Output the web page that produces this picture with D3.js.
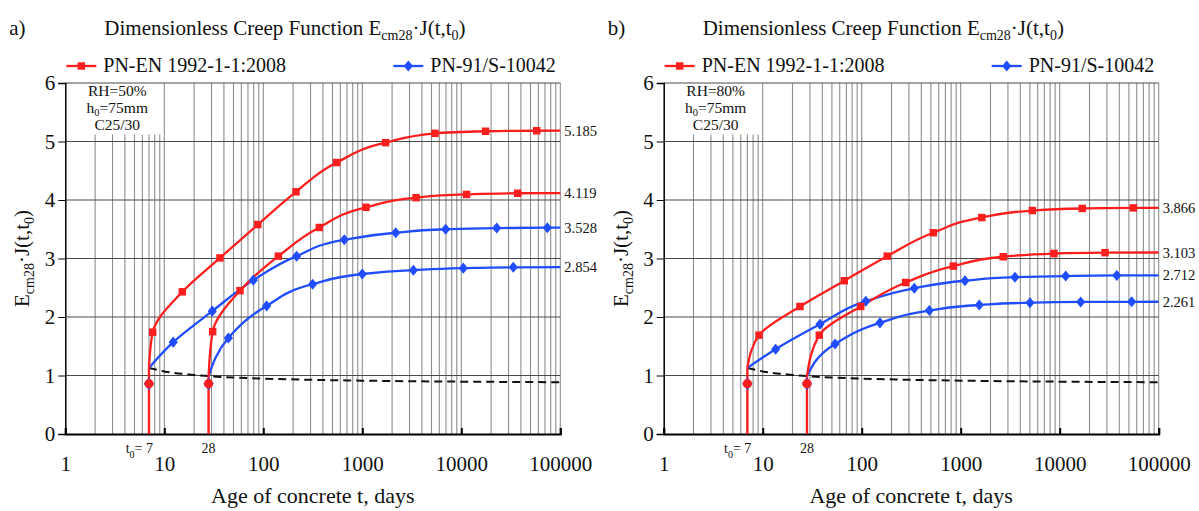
<!DOCTYPE html>
<html>
<head>
<meta charset="utf-8">
<script src="https://cdn.jsdelivr.net/npm/d3@7"></script>
<style>
  body { margin: 0; background: #fff; }
  svg { display: block; }
</style>
</head>
<body>
<svg id="chart" width="1199" height="511"></svg>
<script>
// ---- data ----
const decades = [1, 10, 100, 1000, 10000, 100000];
const yTicks = [0, 1, 2, 3, 4, 5, 6];
const panelLetters = ['a)', 'b)'];
const humidity = ['RH=50%', 'RH=80%'];
const seriesNames = ['PN-EN 1992-1-1:2008', 'PN-91/S-10042'];
const t0Ages = [7, 28];
const t0MarkValue = 0.86;
const boxBottom = 5.12;   // first-decade grid lines stop under the note

// dashed line (same in both panels)
const elasticLine = [[7, 1.13], [10, 1.07], [20, 1.01], [28, 0.99], [50, 0.965], [100, 0.947],
  [300, 0.927], [1000, 0.912], [10000, 0.895], [100000, 0.885]];

// panel a) RH=50%
const ecA7  = [[7, 1.13], [7.63, 1.74], [15.2, 2.43], [36.5, 3.01], [88, 3.58], [214, 4.14],
  [551, 4.64], [1720, 4.98], [5420, 5.14], [17600, 5.175], [57800, 5.184], [100000, 5.185]];
const ecA28 = [[28, 0.99], [30.8, 1.75], [58.2, 2.45], [142, 3.04], [368, 3.53], [1090, 3.875],
  [3490, 4.04], [11300, 4.095], [37100, 4.115], [100000, 4.119]];
const pnA7  = [[7, 1.13], [12.3, 1.57], [30.5, 2.10], [79.3, 2.63], [217, 3.04], [658, 3.32],
  [2175, 3.44], [6950, 3.50], [22800, 3.52], [74000, 3.527], [100000, 3.528]];
const pnA28 = [[28, 0.99], [44.4, 1.64], [108, 2.19], [315, 2.56], [1000, 2.735], [3280, 2.80],
  [10480, 2.835], [33500, 2.85], [100000, 2.854]];

// panel b) RH=80%
const ecB7  = [[7, 1.13], [9.18, 1.69], [23.8, 2.18], [66.7, 2.62], [181, 3.04], [529, 3.44],
  [1633, 3.70], [5290, 3.82], [16900, 3.855], [55400, 3.865], [100000, 3.866]];
const ecB28 = [[28, 0.99], [37.3, 1.69], [97.7, 2.18], [278, 2.59], [843, 2.87], [2690, 3.03],
  [8750, 3.085], [28700, 3.10], [100000, 3.103]];
const pnB7  = [[7, 1.13], [13.5, 1.45], [37.9, 1.875], [110, 2.27], [340, 2.49], [1104, 2.62],
  [3530, 2.68], [11500, 2.70], [37700, 2.71], [100000, 2.712]];
const pnB28 = [[28, 0.99], [53.8, 1.54], [153, 1.90], [482, 2.11], [1540, 2.205], [5010, 2.245],
  [16300, 2.258], [53300, 2.26], [100000, 2.261]];

const RED = '#ff1e1e';
const BLUE = '#1f4dff';
const INK = '#111';
const FONT = '"Liberation Serif", "Times New Roman", serif';

const svg = d3.select('#chart').attr('font-family', FONT);

const diamond = {
  draw(ctx, size) {
    const r = Math.sqrt(size) / 2;
    ctx.moveTo(0, -r * 1.2);
    ctx.lineTo(r, 0);
    ctx.lineTo(0, r * 1.2);
    ctx.lineTo(-r, 0);
    ctx.closePath();
  }
};
const squarePath = d3.symbol(d3.symbolSquare, 56)();
const diamondPath = d3.symbol(diamond, 85)();

// text with subscripts: parts = [[string, isSub], ...]
function richText(sel, parts, subSize, shift = 5) {
  let down = false;
  parts.forEach(([s, sub]) => {
    const t = sel.append('tspan').text(s);
    if (sub && !down) { t.attr('dy', shift).attr('font-size', subSize); down = true; }
    else if (sub) { t.attr('font-size', subSize); }
    else if (down) { t.attr('dy', -shift); down = false; }
  });
  return sel;
}

const yScale = d3.scaleLinear().domain([0, 6]).range([434, 83]);

function drawPanel(i, left, series) {
  const g = svg.append('g');
  const x = d3.scaleLog().domain([1, 100000]).range([left, left + 495]);
  const y = yScale;

  // vertical grid
  g.append('g').selectAll('line')
    .data(x.ticks().filter(t => t > 1))
    .join('line')
    .attr('x1', d => x(d)).attr('x2', d => x(d))
    .attr('y1', y(0)).attr('y2', d => d < 10 ? y(boxBottom) : y(6))
    .attr('stroke', '#8e8e8e').attr('stroke-width', 1.1);

  // horizontal grid
  g.append('g').selectAll('line')
    .data(yTicks.filter(v => v > 0))
    .join('line')
    .attr('x1', x(1)).attr('x2', x(100000))
    .attr('y1', d => y(d)).attr('y2', d => y(d))
    .attr('stroke', '#4a4a4a').attr('stroke-width', 1.1);

  // axes
  const xAxis = g.append('g')
    .attr('transform', `translate(0,${y(0)})`)
    .call(d3.axisBottom(x).tickValues(decades).tickFormat(d3.format('d')).tickSize(-6).tickPadding(22));
  xAxis.attr('font-family', FONT).attr('font-size', 21);
  xAxis.select('.domain').attr('stroke-width', 2);
  xAxis.selectAll('.tick line').attr('stroke-width', 2);
  xAxis.selectAll('text').attr('fill', INK);

  const yAxis = g.append('g')
    .attr('transform', `translate(${x(1)},0)`)
    .call(d3.axisLeft(y).tickValues(yTicks).tickFormat(d3.format('d')).tickSize(7).tickPadding(3));
  yAxis.attr('font-family', FONT).attr('font-size', 21);
  yAxis.select('.domain').attr('stroke-width', 1.5);
  yAxis.selectAll('text').attr('fill', INK);

  // dashed line
  const dashLine = d3.line().x(d => x(d[0])).y(d => y(d[1])).curve(d3.curveMonotoneX);
  g.append('path').attr('d', dashLine(elasticLine))
    .attr('fill', 'none').attr('stroke', INK).attr('stroke-width', 2)
    .attr('stroke-dasharray', '8,5');

  // t0 drop lines (red)
  g.append('g').selectAll('line')
    .data(series.filter(s => s.color === RED))
    .join('line')
    .attr('x1', s => x(s.data[0][0])).attr('x2', s => x(s.data[0][0]))
    .attr('y1', y(0)).attr('y2', s => y(s.data[0][1]))
    .attr('stroke', RED).attr('stroke-width', 2.4);

  // curves: values rise monotonically with age, so interpolate along y
  const line = d3.line().x(d => x(d[0])).y(d => y(d[1])).curve(d3.curveMonotoneY);
  series.forEach(s => {
    g.append('path').attr('d', line(s.data))
      .attr('fill', 'none').attr('stroke', s.color).attr('stroke-width', 2.3);
  });
  series.forEach(s => {
    g.append('g').selectAll('path')
      .data(s.data.slice(1, -1))
      .join('path')
      .attr('transform', d => `translate(${x(d[0])},${y(d[1])})`)
      .attr('d', s.symbol)
      .attr('fill', s.color);
  });

  // markers at t0
  g.append('g').selectAll('path')
    .data(t0Ages).join('path')
    .attr('transform', d => `translate(${x(d)},${y(t0MarkValue)})`)
    .attr('d', d3.symbol(diamond, 110)()).attr('fill', BLUE);
  g.append('g').selectAll('circle')
    .data(t0Ages).join('circle')
    .attr('cx', d => x(d)).attr('cy', y(t0MarkValue)).attr('r', 4.6)
    .attr('fill', RED);

  // end values
  g.append('g').selectAll('text')
    .data(series.map(s => s.data[s.data.length - 1]))
    .join('text')
    .attr('x', x(100000) + 4).attr('y', d => y(d[1]))
    .attr('dy', '0.35em').attr('font-size', 14.5).attr('fill', INK)
    .text(d => d3.format('.3f')(d[1]));

  // t0 labels under the axis
  richText(g.append('text').attr('x', x(t0Ages[0]) + 4).attr('y', 453)
    .attr('text-anchor', 'end').attr('font-size', 14).attr('fill', INK),
    [['t', false], ['0', true], ['= ' + t0Ages[0], false]], 10);
  g.append('text').attr('x', x(t0Ages[1])).attr('y', 453)
    .attr('text-anchor', 'middle').attr('font-size', 14).attr('fill', INK)
    .text(t0Ages[1]);

  // note box
  const note = g.append('g').attr('font-size', 15.5).attr('fill', INK).attr('text-anchor', 'middle');
  note.append('text').attr('x', left + 52).attr('y', 96).text(humidity[i]);
  richText(note.append('text').attr('x', left + 52).attr('y', 112.5),
    [['h', false], ['0', true], ['=75mm', false]], 10.5, 3);
  note.append('text').attr('x', left + 52).attr('y', 130).text('C25/30');

  // legend
  const legendDx = [1, 328];
  [RED, BLUE].forEach((c, k) => {
    const lx = left + legendDx[k];
    g.append('line').attr('x1', lx).attr('x2', lx + 30).attr('y1', 66).attr('y2', 66)
      .attr('stroke', c).attr('stroke-width', 2.3);
    g.append('path').attr('transform', `translate(${lx + 15},66)`)
      .attr('d', k === 0 ? squarePath : diamondPath).attr('fill', c);
    g.append('text').attr('x', lx + 37).attr('y', 72).attr('font-size', 20).attr('fill', INK)
      .text(seriesNames[k]);
  });

  // titles
  g.append('text').attr('x', left - 56).attr('y', 35).attr('font-size', 21).attr('fill', INK)
    .text(panelLetters[i]);
  richText(g.append('text').attr('x', left + 39).attr('y', 35).attr('font-size', 21).attr('fill', INK),
    [['Dimensionless Creep Function E', false], ['cm28', true], ['\u00b7J(t,t', false], ['0', true], [')', false]], 14);

  g.append('text').attr('x', (x(1) + x(100000)) / 2).attr('y', 503)
    .attr('text-anchor', 'middle').attr('font-size', 22).attr('fill', INK)
    .text('Age of concrete t, days');

  richText(g.append('text')
    .attr('transform', `translate(${left - 36},${(y(0) + y(6)) / 2}) rotate(-90)`)
    .attr('text-anchor', 'middle').attr('font-size', 21).attr('fill', INK),
    [['E', false], ['cm28', true], ['\u00b7J(t,t', false], ['0', true], [')', false]], 14);
}

drawPanel(0, 65.3, [
  { data: pnA7, color: BLUE, symbol: diamondPath },
  { data: pnA28, color: BLUE, symbol: diamondPath },
  { data: ecA7, color: RED, symbol: squarePath },
  { data: ecA28, color: RED, symbol: squarePath },
]);
drawPanel(1, 663.7, [
  { data: pnB7, color: BLUE, symbol: diamondPath },
  { data: pnB28, color: BLUE, symbol: diamondPath },
  { data: ecB7, color: RED, symbol: squarePath },
  { data: ecB28, color: RED, symbol: squarePath },
]);
</script>
</body>
</html>
